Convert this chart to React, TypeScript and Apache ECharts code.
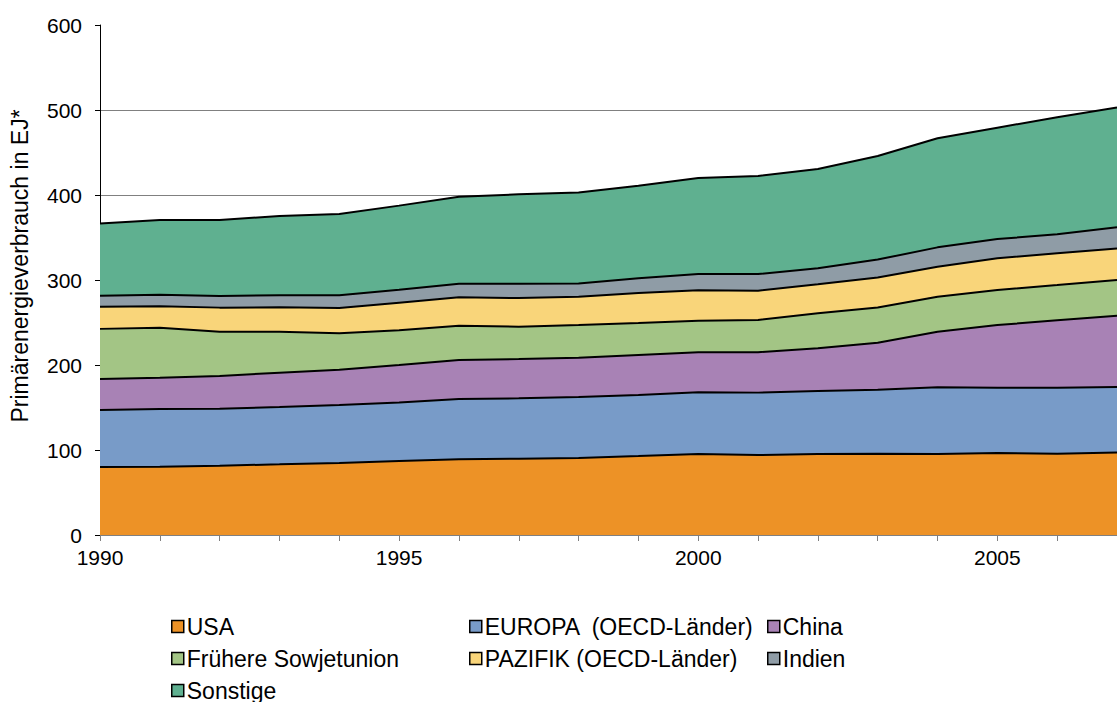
import React, { useEffect, useRef } from "react";
import * as echarts from "echarts";

const years = ["1990","1991","1992","1993","1994","1995","1996","1997","1998","1999","2000","2001","2002","2003","2004","2005","2006","2007"];
const usa = [80, 80.4, 81.6, 83.1, 84.7, 87, 89, 89.8, 90.6, 92.9, 95.3, 94, 95.3, 95.5, 95.3, 96.5, 95.7, 97];
const europa = [67, 67.8, 67, 67.5, 68.2, 69, 71, 71, 71.8, 71.8, 72.6, 73.5, 74.1, 75.5, 78.4, 76.8, 77.6, 77];
const china = [36.5, 36.8, 38.4, 40.4, 41.6, 44, 45.9, 46.2, 46.2, 47.1, 47, 47.5, 50.2, 55.2, 65.5, 73.7, 79.3, 84];
const sowjet = [59, 58.9, 52.2, 48.2, 42.8, 41, 40.4, 38, 38.4, 37.6, 37.1, 37.9, 41.2, 41.4, 41.2, 41.2, 41.4, 42];
const pazifik = [26, 25.1, 28.3, 28.6, 29.7, 32.3, 33.3, 33.8, 33.4, 35.3, 36, 34.5, 34.1, 35.4, 35.3, 37.3, 37.4, 37];
const indien = [13, 13.7, 13.7, 14.2, 15, 15.3, 16.1, 16.9, 15.6, 17.3, 19, 19.6, 18.8, 21, 22.7, 22.7, 22.3, 25];
const sonstige = [85, 87.9, 89.4, 93.3, 95.6, 98.9, 102.3, 105.1, 107, 109, 113, 115.4, 116.9, 121.9, 128.3, 131, 137.7, 141];
const yTicks = [0, 100, 200, 300, 400, 500, 600];

const names = ["USA", "EUROPA  (OECD-Länder)", "China", "Frühere Sowjetunion", "PAZIFIK (OECD-Länder)", "Indien", "Sonstige"];
const values = [usa, europa, china, sowjet, pazifik, indien, sonstige];
const colors = ["#ED9226", "#789BC8", "#A882B5", "#A3C585", "#F9D57A", "#8F9CA6", "#5FB090"];

const FONT = "'Liberation Sans', Arial, sans-serif";

export default function App() {
  const ref = useRef<HTMLDivElement>(null);
  useEffect(() => {
    if (!ref.current) return;
    const chart = echarts.init(ref.current, null, { renderer: "svg" });
    const legendBase = {
      orient: "vertical" as const,
      icon: "rect",
      itemWidth: 12,
      itemHeight: 12,
      itemGap: 9,
      itemStyle: { borderColor: "#000", borderWidth: 1.5 },
      textStyle: { fontSize: 23, color: "#000", fontFamily: FONT, padding: [0, 0, 0, -2] },
      padding: 0,
    };
    chart.setOption({
      animation: false,
      textStyle: { fontFamily: FONT },
      grid: { left: 100, right: -6, top: 25, bottom: 167, containLabel: false },
      legend: [
        { ...legendBase, left: 171, top: 615, data: [names[0], names[3], names[6]] },
        { ...legendBase, left: 469, top: 615, data: [names[1], names[4]] },
        { ...legendBase, left: 767, top: 615, data: [names[2], names[5]] },
      ],
      graphic: [
        {
          type: "text",
          x: 20,
          y: 266,
          rotation: Math.PI / 2,
          style: {
            text: "Primärenergieverbrauch in EJ*",
            fontSize: 23,
            fontFamily: FONT,
            fill: "#000",
            textAlign: "center",
            textVerticalAlign: "middle",
          },
        },
      ],
      xAxis: {
        type: "category",
        data: years,
        boundaryGap: false,
        axisLine: { show: true, lineStyle: { color: "#808080", width: 1 } },
        axisTick: { show: true, interval: 0, length: 6, lineStyle: { color: "#808080" } },
        axisLabel: { interval: 4, fontSize: 21, color: "#000", margin: 12, fontFamily: FONT },
        splitLine: { show: false },
      },
      yAxis: {
        type: "value",
        min: yTicks[0],
        max: yTicks[yTicks.length - 1],
        interval: 100,
        axisLine: { show: true, lineStyle: { color: "#000", width: 1 } },
        axisTick: { show: true, length: 5, lineStyle: { color: "#000" } },
        axisLabel: { fontSize: 21, color: "#000", margin: 18, fontFamily: FONT },
        splitLine: { show: true, showMaxLine: false, lineStyle: { color: "#808080", width: 1 } },
      },
      series: names.map((n, i) => ({
        name: n,
        type: "line",
        stack: "total",
        data: values[i],
        symbol: "none",
        z: 10 - i,
        itemStyle: { color: colors[i] },
        lineStyle: { color: "#000", width: 2 },
        areaStyle: { color: colors[i], opacity: 1 },
      })),
    });
    return () => chart.dispose();
  }, []);
  return <div ref={ref} style={{ width: 1117, height: 702, position: "absolute", left: 0, top: 0 }} />;
}
